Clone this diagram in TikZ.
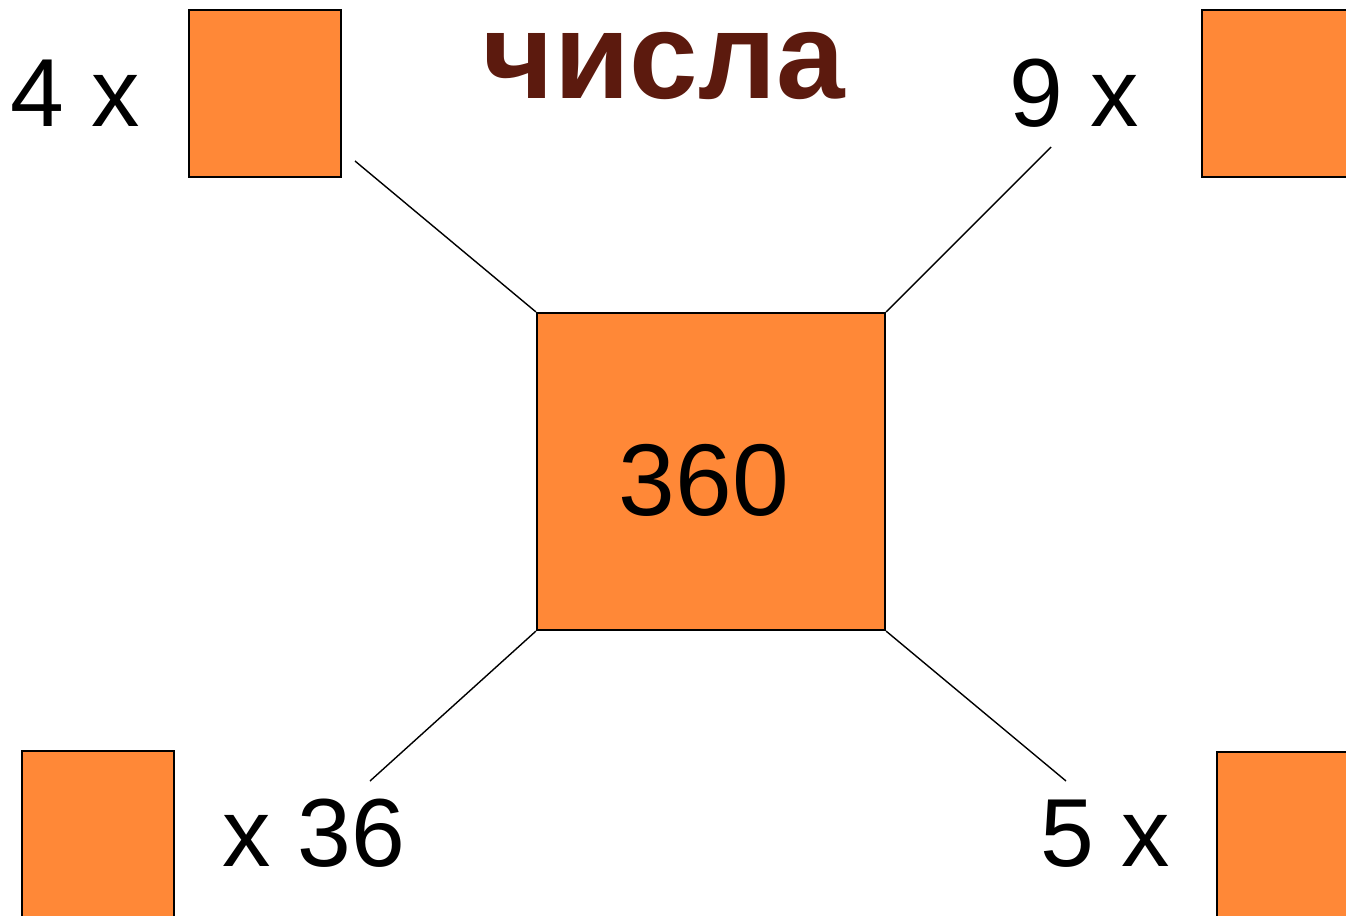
\documentclass[tikz,border=0pt]{standalone}
\usepackage{fontspec}
\setmainfont{Liberation Sans}
\definecolor{boxorange}{HTML}{FF8837}
\definecolor{titlebrown}{HTML}{5C1A0E}
\tikzset{
  numbox/.style={draw=black,fill=boxorange,line width=0.2mm,inner sep=0pt},
  smallbox/.style={numbox,minimum width=1.52cm,minimum height=1.67cm},
  lbl/.style={inner sep=0pt,anchor=base west,font=\fontsize{27.5}{30}\selectfont},
}
\begin{document}
\begin{tikzpicture}[x=0.01cm,y=-0.01cm]
        \useasboundingbox (0,0) rectangle (1346,915);
        \clip (0,0) rectangle (1346,915);

        % boxes
        \node[numbox,minimum width=3.48cm,minimum height=3.17cm] (mid) at (711,471.5) {};
        \node[smallbox] (tl) at (265,93.5) {};
        \node[smallbox] (tr) at (1278,93.5) {};
        \node[smallbox] (bl) at (98,834.5) {};
        \node[smallbox] (br) at (1293,835.5) {};

        % texts
        \node[inner sep=0pt,anchor=base,font=\fontsize{29}{32}\selectfont] (val) at (704,515) {360};
        \node[inner sep=0pt,anchor=base west,text=titlebrown,font=\fontsize{35}{40}\selectfont\bfseries] (title) at (482,98) {числа};
        \node[lbl] (fourx) at (10,126) {4 x};
        \node[lbl] (ninex) at (1009,126) {9 x};
        \node[lbl] (xsix) at (222,866) {x 36};
        \node[lbl] (fivex) at (1040,866) {5 x};

        % connectors
        \coordinate (ptl) at (355,161);
        \coordinate (ptr) at (1051,147);
        \coordinate (pbl) at (370,781);
        \coordinate (pbr) at (1066,781);
        \draw[thin] (ptl) -- (mid.north west);
        \draw[thin] (ptr) -- (mid.north east);
        \draw[thin] (pbl) -- (mid.south west);
        \draw[thin] (pbr) -- (mid.south east);
\end{tikzpicture}
\end{document}
